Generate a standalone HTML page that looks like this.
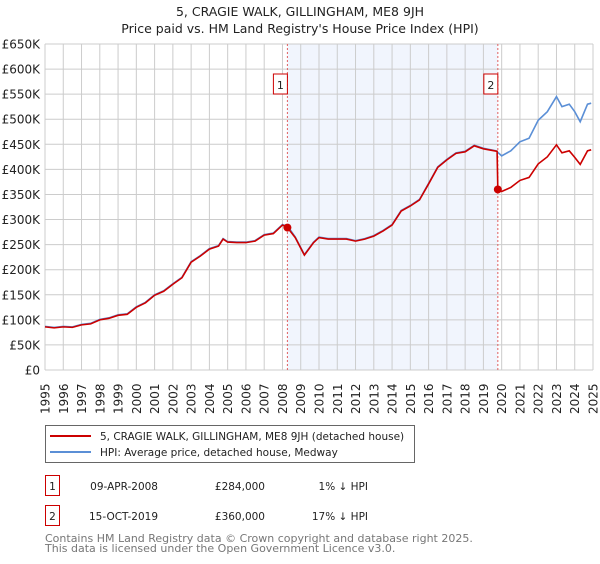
<!DOCTYPE html>
<html><head><meta charset="utf-8"><style>
body{margin:0;background:#fff;font-family:"DejaVu Sans",sans-serif;}
#wrap{position:relative;width:600px;height:560px;}
</style></head><body>
<div id="wrap">
<svg id="chart" width="600" height="560" xmlns="http://www.w3.org/2000/svg" font-family="DejaVu Sans, sans-serif"></svg>
</div>
<script>
const years=[1995,1996,1997,1998,1999,2000,2001,2002,2003,2004,2005,2006,2007,2008,2009,2010,2011,2012,2013,2014,2015,2016,2017,2018,2019,2020,2021,2022,2023,2024,2025];
const yTicks=[0,50,100,150,200,250,300,350,400,450,500,550,600,650];
const hpiT=[1995,1995.5,1996,1996.5,1997,1997.5,1998,1998.5,1999,1999.5,2000,2000.5,2001,2001.5,2002,2002.5,2003,2003.5,2004,2004.5,2004.75,2005,2005.5,2006,2006.5,2007,2007.5,2008,2008.3,2008.7,2009.2,2009.7,2010,2010.5,2011,2011.5,2012,2012.5,2013,2013.5,2014,2014.5,2015,2015.5,2016,2016.5,2017,2017.5,2018,2018.5,2019,2019.7,2020,2020.5,2021,2021.5,2022,2022.5,2023,2023.3,2023.7,2024,2024.3,2024.7,2024.9];
const hpiV=[87,85,87,86,91,93,101,104,110,112,126,135,150,158,172,185,216,228,242,248,262,256,255,255,258,270,273,290,286,265,230,255,265,262,262,262,258,262,268,278,290,318,328,340,372,405,420,433,436,448,442,437,427,437,455,462,498,515,545,525,530,515,495,530,532];
const redT=[1995,1995.5,1996,1996.5,1997,1997.5,1998,1998.5,1999,1999.5,2000,2000.5,2001,2001.5,2002,2002.5,2003,2003.5,2004,2004.5,2004.75,2005,2005.5,2006,2006.5,2007,2007.5,2008,2008.27,2008.7,2009.2,2009.7,2010,2010.5,2011,2011.5,2012,2012.5,2013,2013.5,2014,2014.5,2015,2015.5,2016,2016.5,2017,2017.5,2018,2018.5,2019,2019.75,2019.79,2020,2020.5,2021,2021.5,2022,2022.5,2023,2023.3,2023.7,2024,2024.3,2024.7,2024.9];
const redV=[86,84,86,85,90,92,100,103,109,111,125,134,149,157,171,184,215,227,241,247,261,255,254,254,257,269,272,289,284,264,229,254,264,261,261,261,257,261,267,277,289,317,327,339,371,404,419,432,435,447,441,436,360,356,364,378,384,411,425,449,433,437,424,410,437,439];
const sales=[{n:"1",t:2008.27,v:284},{n:"2",t:2019.79,v:360}];
const NS="http://www.w3.org/2000/svg";
const svg=document.getElementById('chart');
const X0=45,X1=593,Y0=370,Y1=44;
const xs=t=>X0+(t-1995)/30*(X1-X0);
const ys=v=>Y0-v/650*(Y0-Y1);
function mk(tag,attrs,parent){const e=document.createElementNS(NS,tag);for(const k in attrs)e.setAttribute(k,attrs[k]);(parent||svg).appendChild(e);return e;}
let t=mk('text',{x:300,y:16,'text-anchor':'middle','font-size':12.5,fill:'#222'});t.textContent="5, CRAGIE WALK, GILLINGHAM, ME8 9JH";


t=mk('text',{x:300,y:33,'text-anchor':'middle','font-size':12.5,fill:'#222'});t.textContent="Price paid vs. HM Land Registry's House Price Index (HPI)";


let sh=mk('rect',{x:xs(sales[0].t),y:Y1,width:xs(sales[1].t)-xs(sales[0].t),height:Y0-Y1,fill:'#eef2fc',opacity:0.8});


years.forEach(y=>{const l=mk('line',{x1:xs(y),x2:xs(y),y1:Y1,y2:Y0,stroke:'#ccc','stroke-width':1});


const tx=mk('text',{transform:`translate(${xs(y)+4.5},${414}) rotate(-90)`,'font-size':12,fill:'#222'});tx.textContent=y;

});
yTicks.forEach(v=>{const l=mk('line',{x1:X0,x2:X1,y1:ys(v),y2:ys(v),stroke:'#ccc','stroke-width':1});


const tx=mk('text',{x:40,y:ys(v)+4.5,'text-anchor':'end','font-size':12,fill:'#222'});tx.textContent=v===0?'£0':'£'+v+'K';

});
sales.forEach(s=>{const l=mk('line',{x1:xs(s.t),x2:xs(s.t),y1:Y1,y2:Y0,stroke:'#e06060','stroke-width':1,'stroke-dasharray':'2,2'});


const b=mk('rect',{x:xs(s.t)-14,y:74,width:14,height:20,fill:'#fff',stroke:'#c00'});


const tx=mk('text',{x:xs(s.t)-7,y:89,'text-anchor':'middle','font-size':11,fill:'#222'});tx.textContent=s.n;

});
const hp=mk('polyline',{points:hpiT.map((x,i)=>xs(x)+','+ys(hpiV[i])).join(' '),fill:'none',stroke:'#5b8fd6','stroke-width':1.6});


const rp=mk('polyline',{points:redT.map((x,i)=>xs(x)+','+ys(redV[i])).join(' '),fill:'none',stroke:'#cc0000','stroke-width':1.6});


sales.forEach(s=>{const c=mk('circle',{cx:xs(s.t),cy:ys(s.v),r:4,fill:'#cc0000'});

});
// legend
const lg=mk('g',{});


mk('rect',{x:45.5,y:425.5,width:369,height:37,fill:'#fff',stroke:'#666'},lg);
mk('line',{x1:50,x2:91,y1:436,y2:436,stroke:'#cc0000','stroke-width':2},lg);
mk('line',{x1:50,x2:91,y1:452,y2:452,stroke:'#5b8fd6','stroke-width':2},lg);
t=mk('text',{x:100,y:440,'font-size':10.5,fill:'#222'},lg);t.textContent="5, CRAGIE WALK, GILLINGHAM, ME8 9JH (detached house)";


t=mk('text',{x:100,y:456,'font-size':10.5,fill:'#222'},lg);t.textContent="HPI: Average price, detached house, Medway";


const rows=[["1","09-APR-2008","£284,000","1% ↓ HPI",495],["2","15-OCT-2019","£360,000","17% ↓ HPI",525]];
rows.forEach(r=>{const g=mk('g',{});


mk('rect',{x:45.5,y:r[4]-19.5,width:14,height:20,fill:'#fff',stroke:'#c00'},g);
let a=mk('text',{x:52.5,y:r[4]-5,'text-anchor':'middle','font-size':10.5,fill:'#222'},g);a.textContent=r[0];
a=mk('text',{x:158,y:r[4]-5,'text-anchor':'end','font-size':10.5,fill:'#222'},g);a.textContent=r[1];
a=mk('text',{x:265,y:r[4]-5,'text-anchor':'end','font-size':10.5,fill:'#222'},g);a.textContent=r[2];
a=mk('text',{x:368,y:r[4]-5,'text-anchor':'end','font-size':10.5,fill:'#222'},g);a.textContent=r[3];});
t=mk('text',{x:45,y:542,'font-size':11,fill:'#777'});t.textContent="Contains HM Land Registry data © Crown copyright and database right 2025.";


t=mk('text',{x:45,y:552,'font-size':11,fill:'#777'});t.textContent="This data is licensed under the Open Government Licence v3.0.";


</script>
</body></html>
